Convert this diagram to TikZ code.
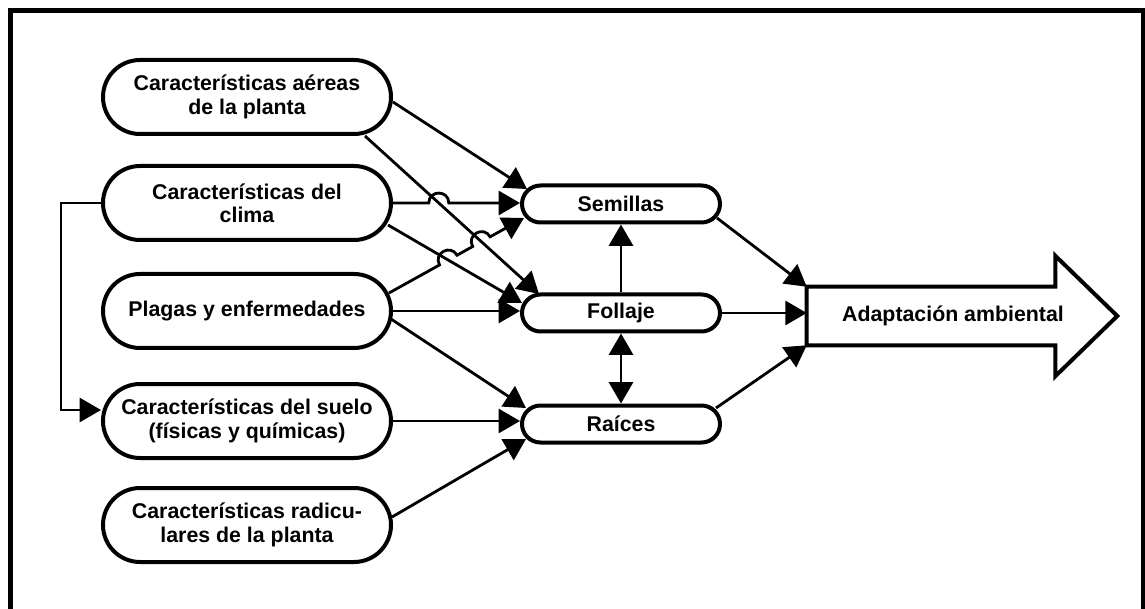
\documentclass[tikz,border=0pt]{standalone}
\usepackage{fontspec}
\setmainfont{Liberation Sans}
\usetikzlibrary{shapes.misc,arrows.meta,calc}
\begin{document}
\begin{tikzpicture}[x=0.75pt,y=-0.75pt,
  >={Triangle[length=16pt,width=18pt]},
  txt/.style={font=\fontsize{16}{17.5}\selectfont\bfseries, align=center, inner sep=0pt},
  box/.style={txt, rounded rectangle, draw, line width=3pt, minimum width=216pt, minimum height=55.5pt},
  sbox/.style={txt, rounded rectangle, draw, line width=3pt, minimum width=148.5pt, minimum height=27.75pt},
  conn/.style={line width=2.1pt, ->},
  hop/.style={bend left=90, looseness=1.7}]
\useasboundingbox (0,0) rectangle (1145,609);
% frame
\draw[line width=3.5pt, line join=miter] (10.5,640) -- (10.5,10.5) -- (1143.5,10.5) -- (1143.5,640);
% nodes
\node[box] (b1) at (247,97) {Características aéreas\\de la planta};
\node[box] (b2) at (247,203) {Características del\\clima};
\node[box] (b3) at (247,311) {Plagas y enfermedades};
\node[box] (b4) at (247,421) {Características del suelo\\(físicas y químicas)};
\node[box] (b5) at (247,525) {Características radicu-\\lares de la planta};
\node[sbox] (sem) at (621,204) {Semillas};
\node[sbox] (fol) at (621,313) {Follaje};
\node[sbox] (rai) at (621,424) {Raíces};
\node[txt, minimum width=232.5pt, minimum height=43.5pt] (adap) at (962,316) {\kern-13.5pt Adaptación ambiental};
\draw[line width=3pt, line join=miter] (adap.north west) -- ($(adap.north east)+(-62,0)$) -- ++(0,-31) -- (adap.east)
  -- ($(adap.south east)+(-62,31)$) -- ++(0,-31) -- (adap.south west) -- cycle;
% connector end points
\coordinate (c1s) at ($(b1.east)+(0,5)$);
\coordinate (c1e) at ($(sem.west)+(7,-15)$);
\coordinate (c2s) at ($(b1.south)+(118,0)$);
\coordinate (c2e) at ($(fol.west)+(19,-19)$);
\coordinate (c3s) at (b2.east);
\coordinate (c3e) at (b2.east -| sem.west);
\coordinate (c4s) at ($(b2.east)+(-5,22)$);
\coordinate (c4e) at ($(fol.west)+(2,-10)$);
\coordinate (c5s) at ($(b3.east)+(-4,-18)$);
\coordinate (c5e) at ($(sem.west)+(4,14)$);
\coordinate (c7s) at ($(b3.east)+(-2,8)$);
\coordinate (c7e) at ($(rai.west)+(6,-16)$);
\coordinate (c9s) at ($(b5.east)+(-1,-8)$);
\coordinate (c9e) at ($(rai.west)+(6,15)$);
\coordinate (c12s) at ($(sem.east)+(-5,14)$);
\coordinate (c14s) at ($(rai.east)+(-6,-16)$);
\coordinate (h1) at (intersection of c2s--c2e and c3s--c3e);
\coordinate (h2) at (intersection of c5s--c5e and c4s--c4e);
\coordinate (h3) at (intersection of c5s--c5e and c2s--c2e);
% connectors
\draw[conn] (c1s) -- (c1e);
\draw[conn] (c2s) -- (c2e);
\draw[conn] (c3s) -- ($(h1)!7.5pt!(c3s)$) to[hop] ($(h1)!7.5pt!(c3e)$) -- (c3e);
\draw[conn] (c4s) -- (c4e);
\draw[conn] (c5s) -- ($(h2)!7.5pt!(c5s)$) to[hop] ($(h2)!7.5pt!(c5e)$)
  -- ($(h3)!7.5pt!(c5s)$) to[hop] ($(h3)!7.5pt!(c5e)$) -- (c5e);
\draw[conn] (b3.east) -- (b3.east -| fol.west);
\draw[conn] (c7s) -- (c7e);
\draw[conn] (b4.east) -- (b4.east -| rai.west);
\draw[conn] (c9s) -- (c9e);
\draw[conn] (b2.west) -- ++(-40,0) |- ($(b4.west)+(0,-11)$);
\draw[conn] (fol.north) -- (sem.south);
\draw[conn, <->] (fol.south) -- (rai.north);
\draw[conn] (c12s) -- (adap.north west);
\draw[conn] (fol.east) -- (fol.east -| adap.west);
\draw[conn] (c14s) -- (adap.south west);
\end{tikzpicture}
\end{document}
